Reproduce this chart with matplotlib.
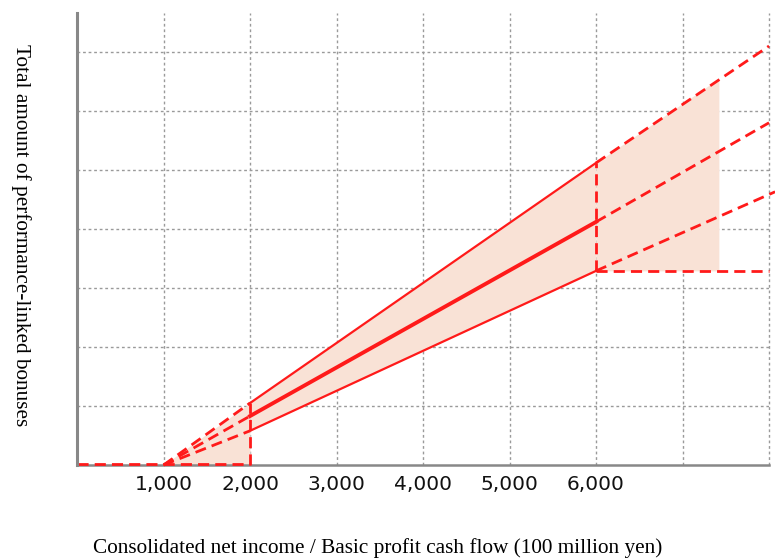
import matplotlib
matplotlib.use("Agg")
import matplotlib.pyplot as plt

# x in 100 million yen, y in grid units (no scale printed on the chart)
x_ticks = [1000, 2000, 3000, 4000, 5000, 6000]
tick_labels = ["1,000", "2,000", "3,000", "4,000", "5,000", "6,000"]
x_grid = [1000, 2000, 3000, 4000, 5000, 6000, 7000, 8000]
y_grid = [1, 2, 3, 4, 5, 6, 7]

# readings at x = 1000, 2000, 6000
x_core = [1000, 2000, 6000]
upper = [0.0, 1.05, 5.12]
middle = [0.0, 0.83, 4.12]
lower = [0.0, 0.58, 3.29]

# dashed extensions beyond 6000
x_ext_upper = [6000, 8000]
upper_ext = [5.12, 7.10]
x_ext_middle = [6000, 8000]
middle_ext = [4.12, 5.80]
x_ext_lower = [6000, 8070]
lower_ext = [3.29, 4.63]
x_floor = [6000, 8000]
floor_ext = [3.29, 3.29]

# shaded band beyond 6000 ends at about 7420
x_band = [6000, 7420]
band_top = [5.12, 6.55]
band_bottom = [3.29, 3.29]

red = "#ff1a1a"
peach = "#f9e2d6"
grid_c = "#9a9a9a"

fig = plt.figure(figsize=(7.75, 5.6), dpi=100)
ax = fig.add_axes([0.0994, 0.1696, 0.8929, 0.8072])
ax.set_xlim(0, 8000)
ax.set_ylim(0, 7.66)

for gx in x_grid:
    ax.axvline(gx, color=grid_c, lw=1.0, ls=(0, (2, 2)), zorder=1, clip_on=False)
for gy in y_grid:
    ax.axhline(gy, color=grid_c, lw=1.0, ls=(0, (2, 2)), zorder=1)

# shading
ax.fill_between([1000, 2000], [0, 0], [upper[0], upper[1]], color=peach, lw=0, zorder=2)
ax.fill_between(x_core[1:], lower[1:], upper[1:], color=peach, lw=0, zorder=2)
ax.fill_between(x_band, band_bottom, band_top, color=peach, lw=0, zorder=2)

dash = (0, (4, 2.2))
dash_kw = dict(color=red, lw=2.0, ls=dash, zorder=4, clip_on=False)

# 1000-2000 dashed ramps
for series in (upper, middle, lower):
    ax.plot(x_core[:2], series[:2], **dash_kw)
# floor and verticals
ax.plot([0, 2000], [0.02, 0.02], **dash_kw)
ax.plot([2000, 2000], [0, upper[1]], **dash_kw)
ax.plot([6000, 6000], [lower[2], upper[2]], **dash_kw)

# solid 2000-6000
ax.plot(x_core[1:], upper[1:], color=red, lw=1.6, zorder=5)
ax.plot(x_core[1:], middle[1:], color=red, lw=2.8, zorder=5)
ax.plot(x_core[1:], lower[1:], color=red, lw=1.6, zorder=5)

# extensions
ax.plot(x_ext_upper, upper_ext, **dash_kw)
ax.plot(x_ext_middle, middle_ext, **dash_kw)
ax.plot(x_ext_lower, lower_ext, **dash_kw)
ax.plot(x_floor, floor_ext, **dash_kw)

for side in ("top", "right"):
    ax.spines[side].set_visible(False)
ax.spines["left"].set_color("#888888")
ax.spines["left"].set_linewidth(2.2)
ax.spines["bottom"].set_color("#888888")
ax.spines["bottom"].set_linewidth(1.8)
ax.spines["left"].set_zorder(6)
ax.spines["bottom"].set_zorder(3)

ax.set_xticks(x_ticks)
ax.set_xticklabels(tick_labels, fontsize=14.5, color="#111111")
ax.set_yticks([])
ax.tick_params(axis="x", length=0, pad=7)

fig.text(0.487, 0.022, "Consolidated net income / Basic profit cash flow (100 million yen)",
         family="Liberation Serif", fontsize=15.3, ha="center", va="center")
fig.text(0.027, 0.58, "Total amount of performance-linked bonuses",
         family="Liberation Serif", fontsize=15.3, ha="center", va="center", rotation=-90)

fig.savefig("out.png", dpi=100)
